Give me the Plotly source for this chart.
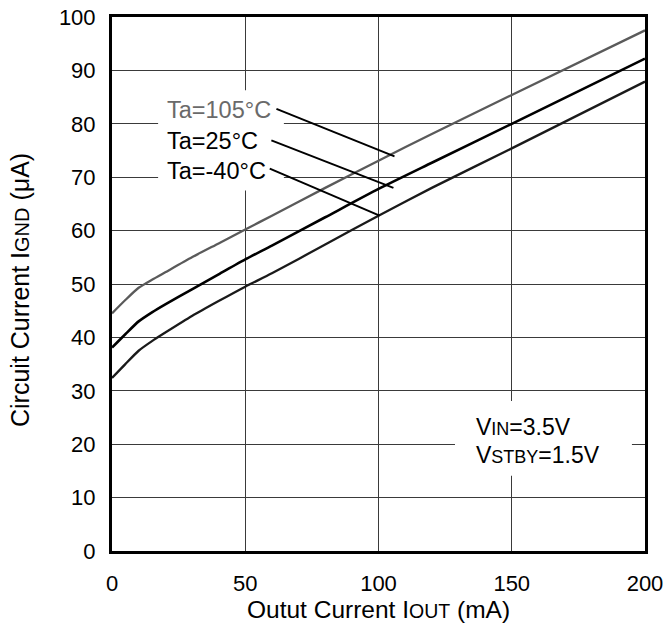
import plotly.graph_objects as go

# Output current (mA)
iout = [0, 5, 10, 15, 20, 30, 40, 50, 60, 80, 100, 120, 150, 200]
# Circuit current IGND (uA)
ignd_105 = [44.5, 47.0, 49.3, 50.8, 52.2, 55.0, 57.6, 60.2, 62.8, 68.0, 73.1, 78.1, 85.4, 97.5]
ignd_25 = [38.1, 40.6, 43.0, 44.7, 46.2, 49.0, 51.8, 54.6, 57.2, 62.5, 67.8, 72.7, 80.0, 92.2]
ignd_m40 = [32.4, 35.0, 37.5, 39.3, 40.9, 44.0, 46.8, 49.5, 52.0, 57.4, 62.8, 68.0, 75.4, 87.9]

series_names = ["Ta=105°C", "Ta=25°C", "Ta=-40°C"]
x_ticks = [0, 50, 100, 150, 200]
y_ticks = [0, 10, 20, 30, 40, 50, 60, 70, 80, 90, 100]

FONT = "Liberation Sans, Arial, sans-serif"
GRAY = "#5a5a5a"

fig = go.Figure()
for ys, color, width, name in [(ignd_105, GRAY, 2.3, series_names[0]),
                               (ignd_25, "#000000", 2.6, series_names[1]),
                               (ignd_m40, "#1a1a1a", 2.3, series_names[2])]:
    fig.add_trace(go.Scatter(x=iout, y=ys, mode="lines", name=name,
                             line=dict(color=color, width=width, shape="spline", smoothing=0.6),
                             showlegend=False))

# white boxes behind labels (interrupt gridlines)
fig.add_shape(type="rect", x0=17.3, x1=64.5, y0=67.5, y1=86.3, xref="x", yref="y",
              fillcolor="white", line=dict(width=0), layer="between")
fig.add_shape(type="rect", x0=128.7, x1=195.1, y0=14.1, y1=28.1, xref="x", yref="y",
              fillcolor="white", line=dict(width=0), layer="between")

# leader lines
leaders = [((61.7, 82.8), (106.0, 73.9)),
           ((59.8, 76.9), (105.6, 68.0)),
           ((59.2, 71.6), (100.4, 62.8))]
for (x0, y0), (x1, y1) in leaders:
    fig.add_shape(type="line", x0=x0, y0=y0, x1=x1, y1=y1, xref="x", yref="y",
                  line=dict(color="black", width=2), layer="above")

label_specs = [(series_names[0], 82.5, "#6a6a6a"),
               (series_names[1], 76.7, "#000000"),
               (series_names[2], 71.25, "#000000")]
for txt, yv, col in label_specs:
    fig.add_annotation(x=19.7, y=yv, xref="x", yref="y", text=txt, showarrow=False,
                       xanchor="left", yanchor="middle",
                       font=dict(family=FONT, size=23.5, color=col))

sc = "font-size:18px"
fig.add_annotation(x=136, y=23.2, xref="x", yref="y",
                   text=f"V<span style='{sc}'>IN</span>=3.5V", showarrow=False,
                   xanchor="left", yanchor="middle", font=dict(family=FONT, size=23, color="black"))
fig.add_annotation(x=136, y=18.0, xref="x", yref="y",
                   text=f"V<span style='{sc}'>STBY</span>=1.5V", showarrow=False,
                   xanchor="left", yanchor="middle", font=dict(family=FONT, size=23, color="black"))

fig.update_layout(
    width=663, height=637,
    margin=dict(l=112, r=18, t=17, b=86, autoexpand=False),
    paper_bgcolor="white", plot_bgcolor="white",
    font=dict(family=FONT, size=22, color="black"),
    xaxis=dict(range=[0, 200], tickvals=x_ticks, showgrid=True, gridcolor="#3a3a3a", gridwidth=1,
               showline=True, linecolor="black", linewidth=3, mirror=True, ticks="",
               zeroline=False, ticklabeloverflow="allow", automargin=False,
               ticklabelstandoff=11),
    yaxis=dict(range=[0, 100], tickvals=y_ticks, showgrid=True, gridcolor="#3a3a3a", gridwidth=1,
               showline=True, linecolor="black", linewidth=3, mirror=True, ticks="",
               zeroline=False, automargin=False, ticklabelstandoff=9),
)

# axis titles as paper annotations
plot_h = 637 - 17 - 86
plot_w = 663 - 112 - 18
fig.add_annotation(x=0.5, y=-(609 - 551) / plot_h, xref="paper", yref="paper",
                   text="Outut Current I<span style='font-size:19.5px'>OUT</span> (mA)",
                   showarrow=False, xanchor="center", yanchor="middle",
                   font=dict(family=FONT, size=24.5, color="black"))
fig.add_annotation(x=-(112 - 20) / plot_w, y=(551 - 290) / plot_h, xref="paper", yref="paper",
                   text="Circuit Current I<span style='font-size:20px'>GND</span> (μA)",
                   showarrow=False, textangle=-90, xanchor="center", yanchor="middle",
                   font=dict(family=FONT, size=25, color="black"))

fig.write_html("out.html", config={"displayModeBar": False},
               post_script="document.body.style.margin='0';document.body.style.padding='0';")
